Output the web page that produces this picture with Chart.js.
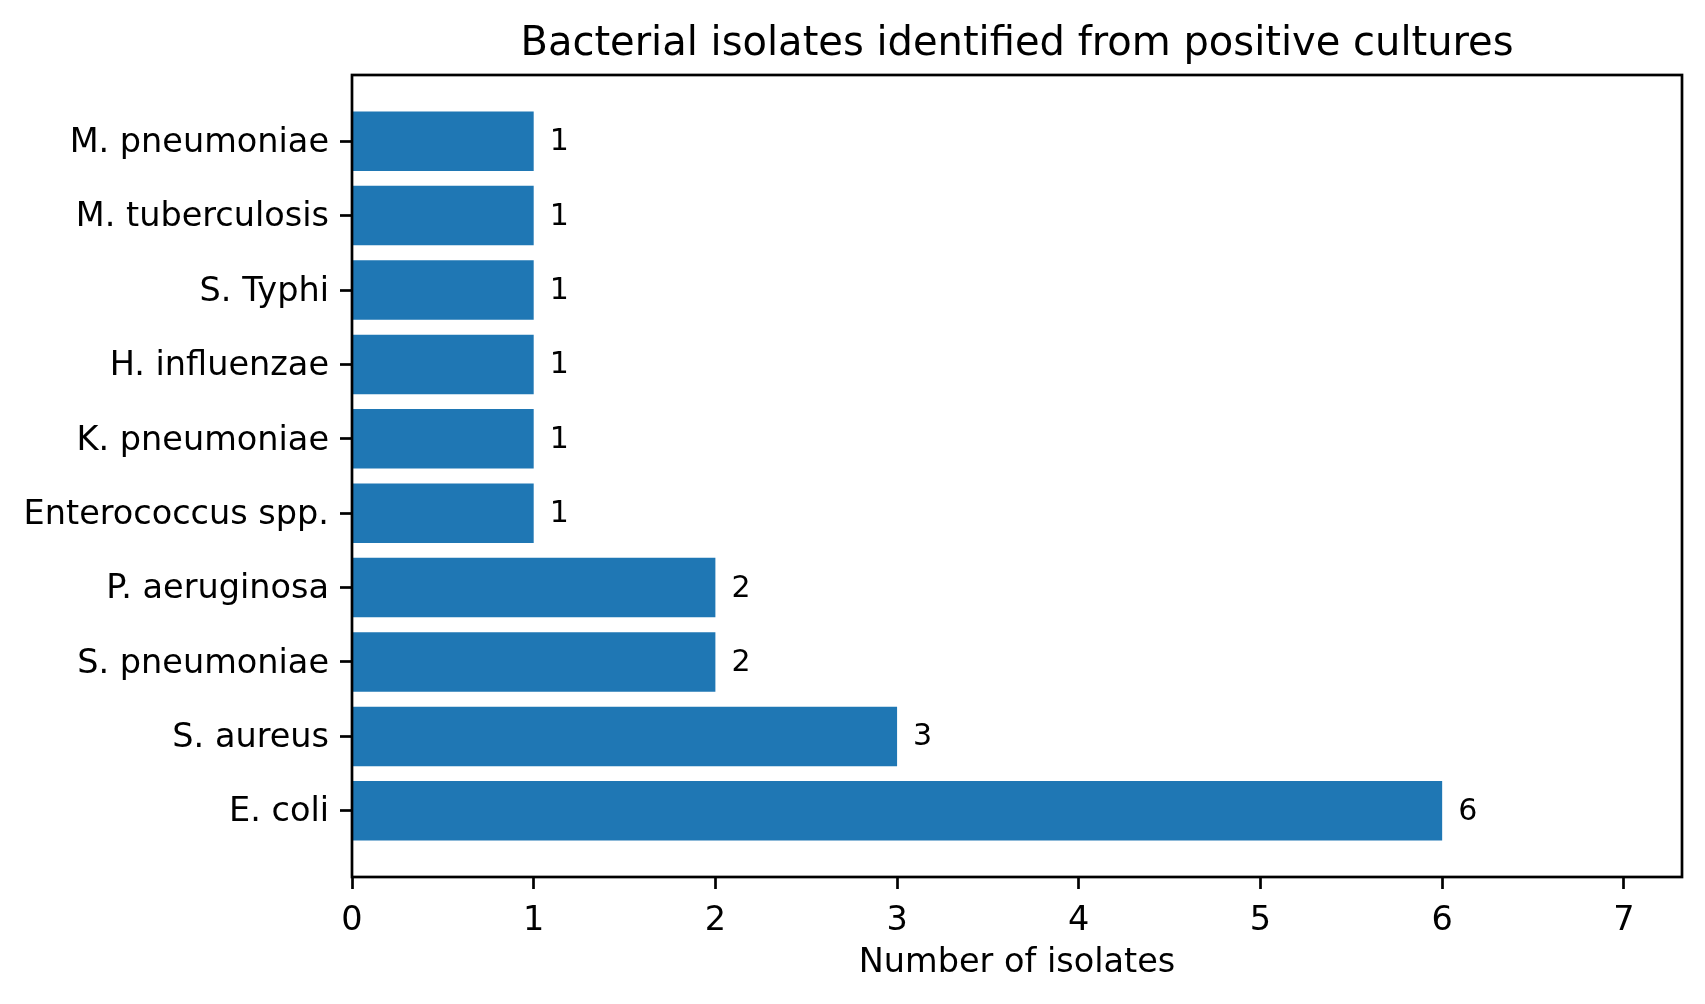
<!DOCTYPE html>
<html lang="en">
<head>
  <meta charset="utf-8">
  <title>Bacterial isolates identified from positive cultures</title>
  <style>
    html, body {
      margin: 0;
      padding: 0;
      background: #fff;
    }

    #wrap {
      width: 1705px;
      height: 1004px;
    }
  </style>
</head>
<body>
  <div id="wrap">
    <canvas id="isolatesChart"></canvas>
  </div>

  <script src="https://cdn.jsdelivr.net/npm/chart.js@4.4.1/dist/chart.umd.min.js"></script>
  <script>
    // Organisms, listed bottom to top as on the chart
    var organisms = [
      'E. coli',
      'S. aureus',
      'S. pneumoniae',
      'P. aeruginosa',
      'Enterococcus spp.',
      'K. pneumoniae',
      'H. influenzae',
      'S. Typhi',
      'M. tuberculosis',
      'M. pneumoniae'
    ];

    // Number of isolates for each organism
    var isolateCounts = [6, 3, 2, 2, 1, 1, 1, 1, 1, 1];

    // Tick labels on the x axis
    var countTicks = [0, 1, 2, 3, 4, 5, 6, 7];

    var barBlue = '#1f77b4';
    Chart.defaults.font.family = "'DejaVu Sans', sans-serif";
    Chart.defaults.color = '#000';

    // Frame around the plot area (all four spines)
    var framePlugin = {
      id: 'frame',
      afterDatasetsDraw: function (chart) {
        var a = chart.chartArea;
        var ctx = chart.ctx;
        ctx.save();
        ctx.strokeStyle = '#000';
        ctx.lineWidth = 2.7;
        ctx.strokeRect(a.left, a.top, a.right - a.left, a.bottom - a.top);
        ctx.restore();
      }
    };

    // Value printed to the right of each bar
    var barLabelPlugin = {
      id: 'barLabels',
      afterDatasetsDraw: function (chart) {
        var ctx = chart.ctx;
        var meta = chart.getDatasetMeta(0);
        ctx.save();
        ctx.font = "30px 'DejaVu Sans'";
        ctx.fillStyle = '#000';
        ctx.textAlign = 'left';
        ctx.textBaseline = 'alphabetic';
        meta.data.forEach(function (bar, i) {
          ctx.fillText(String(isolateCounts[i]), bar.x + 16, bar.y + 9);
        });
        ctx.restore();
      }
    };

    var ctx = document.getElementById('isolatesChart').getContext('2d');
    var isolatesChart = new Chart(ctx, {
      type: 'bar',
      data: {
        datasets: [{
          data: isolateCounts.map(function (v, i) { return { x: v, y: i }; }),
          backgroundColor: barBlue,
          borderWidth: 0,
          categoryPercentage: 1.0,
          barPercentage: 0.8
        }]
      },
      options: {
        indexAxis: 'y',
        responsive: true,
        maintainAspectRatio: false,
        animation: false,
        devicePixelRatio: 1,
        layout: {
          padding: { left: 0, right: 23, top: 0, bottom: 0 }
        },
        plugins: {
          legend: { display: false },
          tooltip: { enabled: false },
          title: {
            display: true,
            text: 'Bacterial isolates identified from positive cultures',
            fullSize: false,
            color: '#000',
            font: { size: 40, weight: 'normal' },
            padding: { top: 21, bottom: 6 }
          }
        },
        scales: {
          x: {
            type: 'linear',
            position: 'bottom',
            min: 0,
            max: 7.32,
            afterFit: function (scale) { scale.height = 127; },
            afterBuildTicks: function (scale) {
              scale.ticks = countTicks.map(function (v) { return { value: v }; });
            },
            ticks: {
              font: { size: 33.5 },
              color: '#000',
              padding: 12,
              maxRotation: 0,
              callback: function (v) { return String(v); }
            },
            grid: {
              drawOnChartArea: false,
              drawTicks: true,
              tickLength: 12,
              tickWidth: 2.7,
              tickColor: '#000'
            },
            border: { display: false },
            title: {
              display: true,
              text: 'Number of isolates',
              color: '#000',
              font: { size: 33.5 },
              padding: { top: 0, bottom: 21 }
            }
          },
          y: {
            type: 'linear',
            position: 'left',
            min: -0.89,
            max: 9.89,
            offset: false,
            afterFit: function (scale) { scale.width = 352; },
            afterBuildTicks: function (scale) {
              scale.ticks = organisms.map(function (name, i) { return { value: i }; });
            },
            ticks: {
              font: { size: 33.5 },
              color: '#000',
              padding: 11,
              labelOffset: 2,
              callback: function (v) { return organisms[v]; }
            },
            grid: {
              offset: false,
              drawOnChartArea: false,
              drawTicks: true,
              tickLength: 12,
              tickWidth: 2.7,
              tickColor: '#000'
            },
            border: { display: false }
          }
        }
      },
      plugins: [framePlugin, barLabelPlugin]
    });
  </script>
</body>
</html>
